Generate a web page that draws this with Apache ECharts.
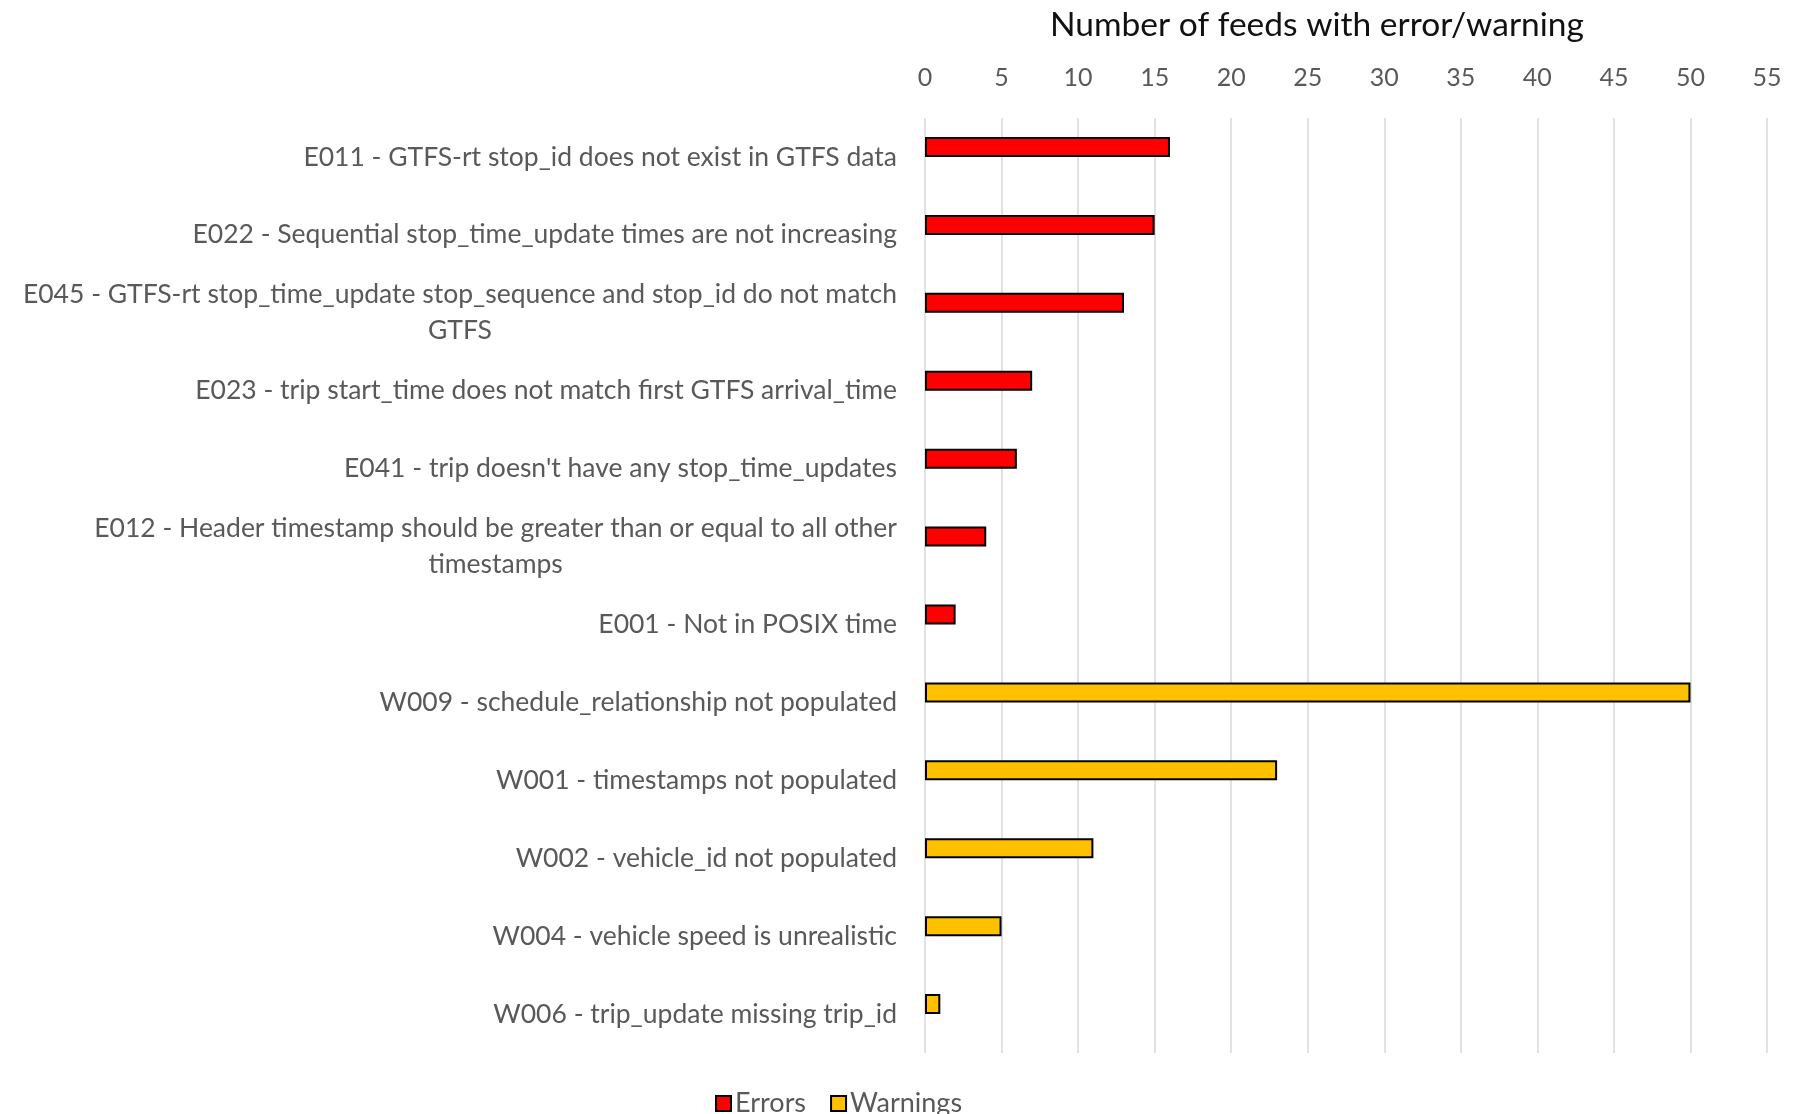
<!DOCTYPE html>
<html>
<head>
<meta charset="utf-8">
<title>Feeds with error/warning</title>
<script src="https://cdn.jsdelivr.net/npm/echarts@6/dist/echarts.min.js"></script>
<style>
    html, body { margin: 0; padding: 0; background: #fff; }
    #chartBox { width: 1800px; height: 1114px; }
</style>
</head>
<body>
<div id="chartBox"></div>
<script>
    // 数据
    var categories = [
        'E011 - GTFS-rt stop_id does not exist in GTFS data',
        'E022 - Sequential stop_time_update times are not increasing',
        'E045 - GTFS-rt stop_time_update stop_sequence and stop_id do not match GTFS',
        'E023 - trip start_time does not match first GTFS arrival_time',
        "E041 - trip doesn't have any stop_time_updates",
        'E012 - Header timestamp should be greater than or equal to all other timestamps',
        'E001 - Not in POSIX time',
        'W009 - schedule_relationship not populated',
        'W001 - timestamps not populated',
        'W002 - vehicle_id not populated',
        'W004 - vehicle speed is unrealistic',
        'W006 - trip_update missing trip_id'
    ];
    var errors   = [16, 15, 13, 7, 6, 4, 2, null, null, null, null, null];
    var warnings = [null, null, null, null, null, null, null, 50, 23, 11, 5, 1];
    var emptySlot = [null, null, null, null, null, null, null, null, null, null, null, null];

    var labelFont = '26.5px Lato';
    var maxLabelWidth = 888;

    // 文字换行：超过宽度就断行
    var ctx = document.createElement('canvas').getContext('2d');
    ctx.font = labelFont;
    function wrapLabel(text) {
        var words = text.split(' ');
        var lines = [];
        var line = '';
        for (var i = 0; i < words.length; i++) {
            var test = line ? line + ' ' + words[i] : words[i];
            if (ctx.measureText(test).width > maxLabelWidth && line) {
                lines.push(line);
                line = words[i];
            } else {
                line = test;
            }
        }
        lines.push(line);
        return lines.map(function (l) { return '{c|' + l + '}'; }).join('\n');
    }

    var myChart = echarts.init(document.getElementById('chartBox'));
    var option = {
        animation: false,
        grid: { left: 925, right: 33, top: 118, bottom: 61, containLabel: false, outerBoundsMode: 'none' },
        legend: {
            data: ['Errors', 'Warnings'],
            icon: 'rect',
            left: 710,
            top: 1085,
            itemWidth: 15,
            itemHeight: 15,
            itemGap: 24,
            textStyle: { fontFamily: 'Lato', fontSize: 27, color: '#595959', padding: [0, 0, 0, -1] }
        },
        xAxis: {
            type: 'value',
            position: 'top',
            min: 0,
            max: 55,
            interval: 5,
            name: 'Number of feeds with error/warning',
            nameLocation: 'middle',
            nameGap: 76,
            nameTextStyle: { fontFamily: 'Lato', fontSize: 33.5, color: '#111', padding: [0, 58, 0, 0] },
            axisLine: { show: false },
            axisTick: { show: false },
            axisLabel: { fontFamily: 'Lato', fontSize: 25, color: '#595959', margin: 28 },
            splitLine: { lineStyle: { color: '#d9d9d9', width: 1.5 } }
        },
        yAxis: {
            type: 'category',
            inverse: true,
            data: categories,
            axisLine: { show: false },
            axisTick: { show: false },
            axisLabel: {
                margin: 28,
                formatter: wrapLabel,
                rich: {
                    c: { fontFamily: 'Lato', fontSize: 26.5, color: '#595959', align: 'center', lineHeight: 36 }
                }
            }
        },
        series: [
            {
                name: 'Errors',
                type: 'bar',
                stack: 'feeds',
                barWidth: 20,
                data: errors,
                itemStyle: { color: '#ff0000', borderColor: '#000', borderWidth: 2 }
            },
            {
                name: 'Warnings',
                type: 'bar',
                stack: 'feeds',
                barWidth: 20,
                data: warnings,
                itemStyle: { color: '#ffc000', borderColor: '#000', borderWidth: 2 }
            },
            {
                // 空系列，只占位
                name: 'slot',
                type: 'bar',
                barWidth: 20,
                barGap: 0,
                data: emptySlot,
                silent: true
            }
        ]
    };
    myChart.setOption(option);
</script>
</body>
</html>
